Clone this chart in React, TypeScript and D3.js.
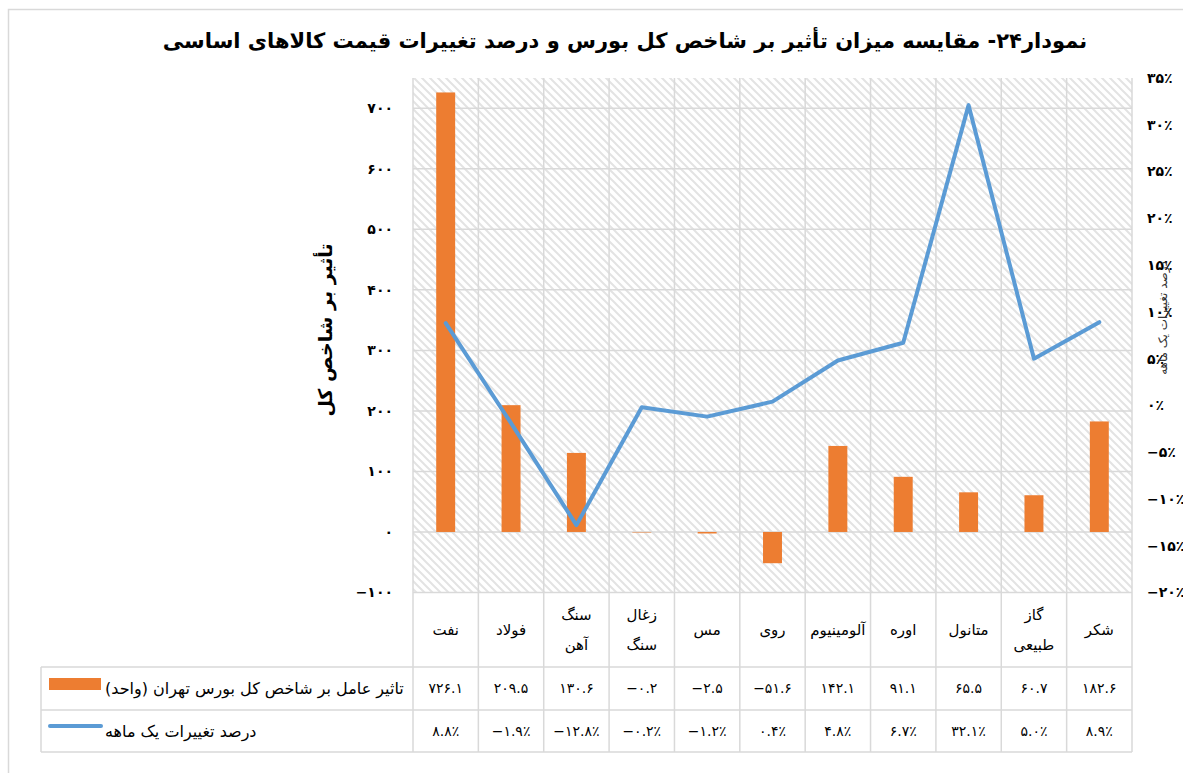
import * as d3 from "d3";

const categories = [
  ["نفت"],
  ["فولاد"],
  ["سنگ", "آهن"],
  ["زغال", "سنگ"],
  ["مس"],
  ["روی"],
  ["آلومینیوم"],
  ["اوره"],
  ["متانول"],
  ["گاز", "طبیعی"],
  ["شکر"],
];
const impact = [726.1, 209.5, 130.6, -0.2, -2.5, -51.6, 142.1, 91.1, 65.5, 60.7, 182.6];
const change = [8.8, -1.9, -12.8, -0.2, -1.2, 0.4, 4.8, 6.7, 32.1, 5.0, 8.9];
const leftTicks = [-100, 0, 100, 200, 300, 400, 500, 600, 700];
const rightTicks = [-20, -15, -10, -5, 0, 5, 10, 15, 20, 25, 30, 35];

const title = "نمودار۲۴- مقایسه میزان تأثیر بر شاخص کل بورس و درصد تغییرات قیمت کالاهای اساسی";
const leftTitle = "تأثیر بر شاخص کل";
const rightTitle = "درصد تغییرات یک ماهه";
const barLabel = "تاثیر عامل بر شاخص کل بورس تهران (واحد)";
const lineLabel = "درصد تغییرات یک ماهه";

const FONT = "'DejaVu Sans', sans-serif";
const ORANGE = "#ED7D31";
const BLUE = "#5B9BD5";
const GRID = "#d9d9d9";

function fa(s: string) {
  return s
    .replace(/[0-9]/g, (c) => "۰۱۲۳۴۵۶۷۸۹"[+c])
    .replace(/%/g, "٪")
    .replace(/-/g, "−");
}

export default function App() {
  const plot = { left: 413, right: 1132, top: 78, bottom: 592.5 };
  const table = { left: 41, head: 667, mid: 710, bottom: 752 };

  const x = d3.scaleBand<number>().domain(d3.range(categories.length)).range([plot.left, plot.right]);
  const yL = d3.scaleLinear().domain([-100, 750]).range([plot.bottom, plot.top]);
  const yR = d3.scaleLinear().domain([-20, 35]).range([plot.bottom, plot.top]);
  const bw = x.bandwidth() * 0.29;
  const cx = (i: number) => (x(i) as number) + x.bandwidth() / 2;

  const line = d3
    .line<number>()
    .x((_, i) => cx(i))
    .y((d) => yR(d));

  const colEdges = d3.range(categories.length + 1).map((i) => plot.left + i * x.bandwidth());

  return (
    <svg width={1183} height={773} style={{ position: "absolute", left: 0, top: 0 }} fontFamily={FONT}>
      <defs>
        <pattern id="hatch" patternUnits="userSpaceOnUse" width={8} height={8}>
          <path d="M-2,-2 L10,10 M-2,6 L2,10 M6,-2 L10,2" stroke="#e3e3e3" strokeWidth={2} />
        </pattern>
      </defs>
      <rect x={8.5} y={9.5} width={1300} height={900} fill="#fff" stroke={GRID} strokeWidth={1.5} />

      <text x={625} y={48} textAnchor="middle" fontSize={21} fontWeight="bold" fill="#000">
        {title}
      </text>

      {/* plot area */}
      <rect x={plot.left} y={plot.top} width={plot.right - plot.left} height={plot.bottom - plot.top} fill="url(#hatch)" />
      {leftTicks.map((t) => (
        <line key={t} x1={plot.left} x2={plot.right} y1={yL(t)} y2={yL(t)} stroke={GRID} strokeWidth={1.5} />
      ))}
      {colEdges.map((e, i) => (
        <line key={i} x1={e} x2={e} y1={plot.top} y2={table.bottom} stroke={GRID} strokeWidth={1.5} />
      ))}

      {impact.map((v, i) => (
        <rect
          key={i}
          x={cx(i) - bw / 2}
          y={Math.min(yL(v), yL(0))}
          width={bw}
          height={Math.max(Math.abs(yL(v) - yL(0)), 0.5)}
          fill={ORANGE}
        />
      ))}
      <path d={line(change) as string} fill="none" stroke={BLUE} strokeWidth={4} strokeLinejoin="round" strokeLinecap="round" />

      {/* axes */}
      {leftTicks.map((t) => (
        <text key={t} x={393} y={yL(t)} dy="0.35em" textAnchor="end" fontSize={14} fontWeight="bold" fill="#000">
          {fa(String(t))}
        </text>
      ))}
      {rightTicks.map((t) => (
        <text key={t} x={1147} y={yR(t)} dy="0.35em" textAnchor="start" fontSize={14} fontWeight="bold" fill="#000">
          {fa(t + "%")}
        </text>
      ))}
      <text transform="translate(325,330) rotate(-90)" textAnchor="middle" dy="0.35em" fontSize={19} fontWeight="bold" fill="#000">
        {leftTitle}
      </text>
      <text transform="translate(1163,318) rotate(-90)" textAnchor="middle" dy="0.35em" fontSize={12} fill="#333">
        {rightTitle}
      </text>

      {/* data table */}
      {[table.head, table.mid, table.bottom].map((yy) => (
        <line key={yy} x1={table.left} x2={plot.right} y1={yy} y2={yy} stroke={GRID} strokeWidth={1.5} />
      ))}
      <line x1={table.left} x2={table.left} y1={table.head} y2={table.bottom} stroke={GRID} strokeWidth={1.5} />

      {categories.map((lines, i) =>
        lines.map((l, j) => (
          <text
            key={i + "-" + j}
            x={cx(i)}
            y={(plot.bottom + table.head) / 2 + (j - (lines.length - 1) / 2) * 30}
            dy="0.35em"
            textAnchor="middle"
            fontSize={15}
            fill="#000"
          >
            {l}
          </text>
        ))
      )}
      {impact.map((v, i) => (
        <text key={i} x={cx(i)} y={(table.head + table.mid) / 2} dy="0.35em" textAnchor="middle" fontSize={14} fill="#000">
          {fa(v.toFixed(1))}
        </text>
      ))}
      {change.map((v, i) => (
        <text key={i} x={cx(i)} y={(table.mid + table.bottom) / 2} dy="0.35em" textAnchor="middle" fontSize={14} fill="#000">
          {fa(v.toFixed(1) + "%")}
        </text>
      ))}

      <rect x={49} y={678} width={52} height={12} fill={ORANGE} />
      <text x={105} y={(table.head + table.mid) / 2} dy="0.35em" textAnchor="start" fontSize={16} fill="#000">
        {barLabel}
      </text>
      <line x1={50} x2={101} y1={726} y2={726} stroke={BLUE} strokeWidth={4} strokeLinecap="round" />
      <text x={105} y={(table.mid + table.bottom) / 2} dy="0.35em" textAnchor="start" fontSize={16} fill="#000">
        {lineLabel}
      </text>
    </svg>
  );
}
